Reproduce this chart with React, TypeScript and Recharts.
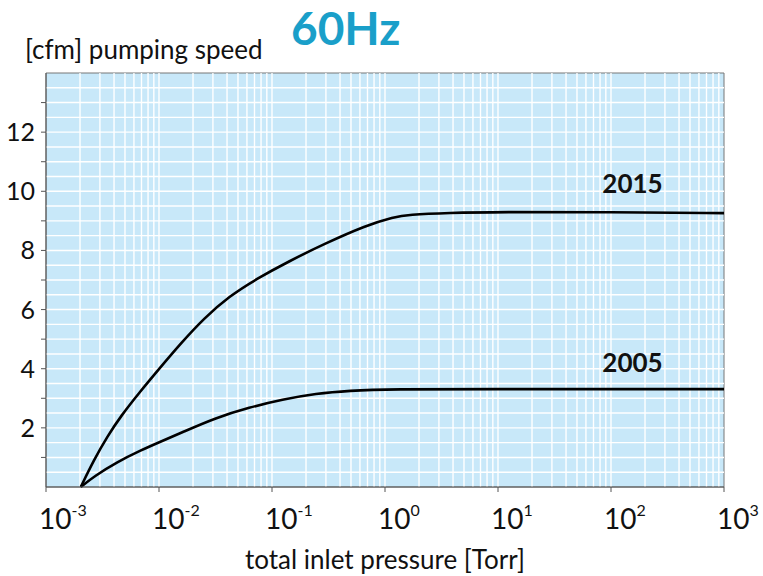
import {
  LineChart,
  Line,
  XAxis,
  YAxis,
  ReferenceArea,
  ReferenceLine,
  ReferenceDot,
} from "recharts"

// pressure [Torr] / pumping speed [cfm]
const p2015 = [0.00203, 0.00266, 0.00349, 0.00462, 0.00666, 0.01, 0.0157, 0.0251, 0.0418, 0.0724, 0.142, 0.29, 0.683, 1.2, 1.6, 3.68, 10, 100, 1000]
const s2015 = [0, 0.92, 1.71, 2.41, 3.18, 3.99, 4.87, 5.71, 6.45, 7.03, 7.64, 8.22, 8.85, 9.13, 9.21, 9.27, 9.3, 9.3, 9.26]

const p2005 = [0.00203, 0.00266, 0.00428, 0.0069, 0.01, 0.0161, 0.0318, 0.0628, 0.124, 0.245, 0.483, 1.09, 10, 100, 1000]
const s2005 = [0, 0.36, 0.85, 1.24, 1.51, 1.85, 2.34, 2.69, 2.96, 3.16, 3.26, 3.31, 3.31, 3.31, 3.31]

const xTicks = [1e-3, 1e-2, 1e-1, 1, 10, 100, 1000]
const yTicks = [1, 2, 3, 4, 5, 6, 7, 8, 9, 10, 11, 12, 13]

// log grid: 1..9 in every decade, horizontal every 0.5
const xGrid = xTicks.slice(0, -1).flatMap((d) => [2, 3, 4, 5, 6, 7, 8, 9].map((k) => k * d)).concat(xTicks.slice(1, -1))
const yGrid = Array.from({ length: 27 }, (_, i) => (i + 1) * 0.5)

const data2015 = p2015.map((p, i) => ({ p, s: s2015[i] }))
const data2005 = p2005.map((p, i) => ({ p, s: s2005[i] }))

const font = "Lato, 'Open Sans', sans-serif"
const bg = "#c8e8f9"

function XTick({ x, y, payload }: any) {
  const exp = Math.round(Math.log10(payload.value))
  return (
    <text x={x - 7} y={y + 35} fontFamily={font} fontSize={28} fill="#111">
      <tspan>10</tspan>
      <tspan dy={-13} fontSize={16}>{exp}</tspan>
    </text>
  )
}

function YTick({ x, y, payload }: any) {
  if (payload.value % 2 !== 0) return null
  return (
    <text x={x - 4} y={y + 9} textAnchor="end" fontFamily={font} fontSize={25} fill="#111">
      {payload.value}
    </text>
  )
}

export default function App() {
  return (
    <div style={{ position: "absolute", left: 0, top: 0, width: 763, height: 576, background: "#fff" }}>
      <div
        style={{
          position: "absolute", left: 291, top: 4, fontFamily: font, fontWeight: 700,
          fontSize: 46, color: "#1a9fc9", lineHeight: "48px",
        }}
      >
        60Hz
      </div>
      <div
        style={{
          position: "absolute", left: 25, top: 33, fontFamily: font, fontSize: 26,
          color: "#111", lineHeight: "32px",
        }}
      >
        [cfm] pumping speed
      </div>
      <LineChart width={763} height={576} margin={{ top: 73, right: 39, bottom: 0, left: 0 }}>
        <XAxis
          dataKey="p"
          type="number"
          scale="log"
          domain={[1e-3, 1e3]}
          ticks={xTicks}
          allowDataOverflow
          height={89}
          tickSize={5}
          tick={<XTick />}
          stroke="#555"
          label={{ value: "total inlet pressure [Torr]", position: "insideBottom", offset: 7, fontFamily: font, fontSize: 26, fill: "#111" }}
        />
        <YAxis
          dataKey="s"
          type="number"
          domain={[0, 14]}
          ticks={yTicks}
          width={46}
          tickSize={5}
          tick={<YTick />}
          stroke="#555"
        />
        <ReferenceArea x1={1e-3} x2={1e3} y1={0} y2={14} fill={bg} fillOpacity={1} stroke="#777" strokeWidth={1} />
        {xGrid.map((v) => (
          <ReferenceLine key={"x" + v} x={v} stroke="#fff" strokeWidth={1.4} />
        ))}
        {yGrid.map((v) => (
          <ReferenceLine key={"y" + v} y={v} stroke="#fff" strokeWidth={1.4} />
        ))}
        <Line data={data2015} dataKey="s" type="basis" stroke="#000" strokeWidth={2.6} dot={false} isAnimationActive={false} />
        <Line data={data2005} dataKey="s" type="basis" stroke="#000" strokeWidth={2.6} dot={false} isAnimationActive={false} />
        <ReferenceDot x={155} y={10.27} r={0} label={{ value: "2015", position: "center", fontFamily: font, fontWeight: 700, fontSize: 26, fill: "#111" }} />
        <ReferenceDot x={155} y={4.2} r={0} label={{ value: "2005", position: "center", fontFamily: font, fontWeight: 700, fontSize: 26, fill: "#111" }} />
      </LineChart>
    </div>
  )
}
